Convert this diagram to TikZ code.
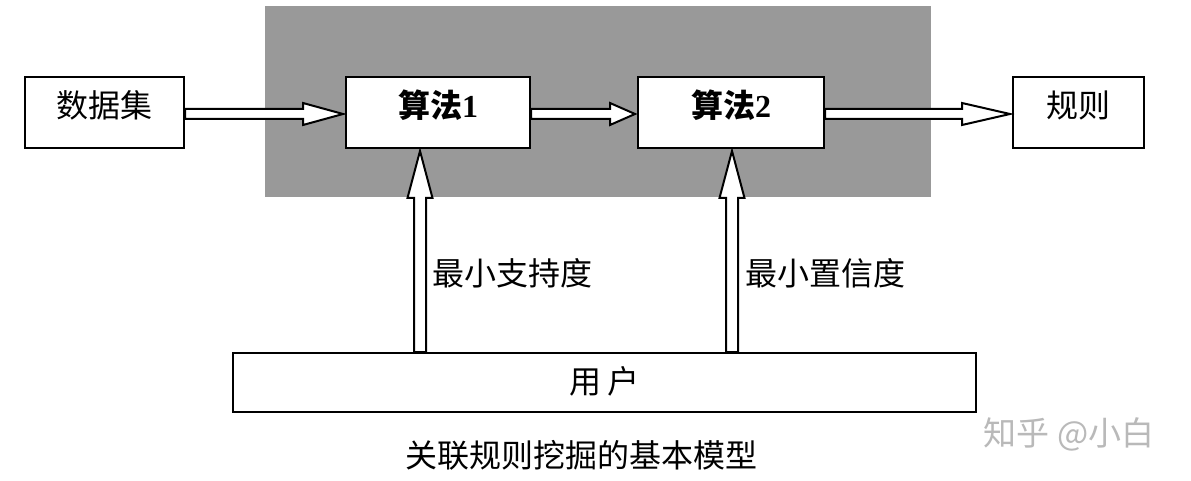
\documentclass[tikz,border=0pt]{standalone}
\usepackage{fontspec}
\setmainfont{Liberation Serif}
\newfontfamily\cjk{Noto Sans CJK SC}
\usetikzlibrary{calc}
\definecolor{bggray}{RGB}{153,153,153}
\definecolor{wmgray}{RGB}{185,185,185}
\tikzset{
  box/.style={draw=black,line width=2pt,fill=white,minimum height=71pt,inner sep=0pt},
  blk/.style={draw=black,line width=2pt,fill=white,line join=miter},
  txt/.style={inner sep=0pt,font=\cjk\fontsize{32}{32}\selectfont},
  btxt/.style={inner sep=0pt,font=\cjk\bfseries\fontsize{32}{32}\selectfont}
}
\newcommand\harr[3]{%
  \draw[blk] ($(#1.east)+(0,-3.5)$) -- ($(#2.west)+(-#3,-3.5)$) -- ($(#2.west)+(-#3,-9.5)$)
    -- ($(#2.west)+(-2,1.5)$) -- ($(#2.west)+(-#3,12.5)$) -- ($(#2.west)+(-#3,6.5)$)
    -- ($(#1.east)+(0,6.5)$) -- cycle;}
\newcommand\varr[4]{%
  \draw[blk] ($(#1.north -| #2.south)+(#3-6,0)$) -- ($(#2.south)+(#3-6,#4)$)
    -- ($(#2.south)+(#3-12.5,#4)$) -- ($(#2.south)+(#3,2)$)
    -- ($(#2.south)+(#3+12.5,#4)$) -- ($(#2.south)+(#3+6,#4)$)
    -- ($(#1.north -| #2.south)+(#3+6,0)$) -- cycle;}
\begin{document}
\begin{tikzpicture}[x=1pt,y=-1pt]
\useasboundingbox[fill=white] (0,0) rectangle (1191,481);
\node[fill=bggray,minimum width=666pt,minimum height=191pt,inner sep=0pt] (bg) at (598,101.5) {};
\node[box,minimum width=159pt] (ds) at (104.5,112.5) {};
\node[box,minimum width=184pt] (a1) at (438,112.5) {};
\node[box,minimum width=186pt] (a2) at (731,112.5) {};
\node[box,minimum width=131pt] (rl) at (1078.5,112.5) {};
\node[box,minimum width=743pt,minimum height=59pt] (us) at (604.5,382.5) {};
\node[txt] (tds) at ($(ds.center)+(0,-7)$) {数据集};
\node[btxt] (ta1) at ($(a1.center)+(0,-7)$) {算法\textbf{\fontsize{32}{32}\selectfont\rmfamily 1}};
\node[btxt] (ta2) at ($(a2.center)+(0,-7)$) {算法\textbf{\fontsize{32}{32}\selectfont\rmfamily 2}};
\node[txt] (trl) at ($(rl.center)+(0,-7)$) {规则};
\node[txt] (tus) at ($(us.center)+(0,-1)$) {用\,户};
\harr{ds}{a1}{42}
\harr{a1}{a2}{27}
\harr{a2}{rl}{50}
\varr{us}{a1}{-18}{49}
\varr{us}{a2}{1}{49}
\node[txt,anchor=west] (l1) at (432,273) {最小支持度};
\node[txt,anchor=west] (l2) at (745,273) {最小置信度};
\node[txt] (cap) at (581,455) {关联规则挖掘的基本模型};
\node[txt,text=wmgray,font=\cjk\fontsize{33}{33}\selectfont] (wm) at (1069,434) {知乎 @小白};
\end{tikzpicture}
\end{document}
